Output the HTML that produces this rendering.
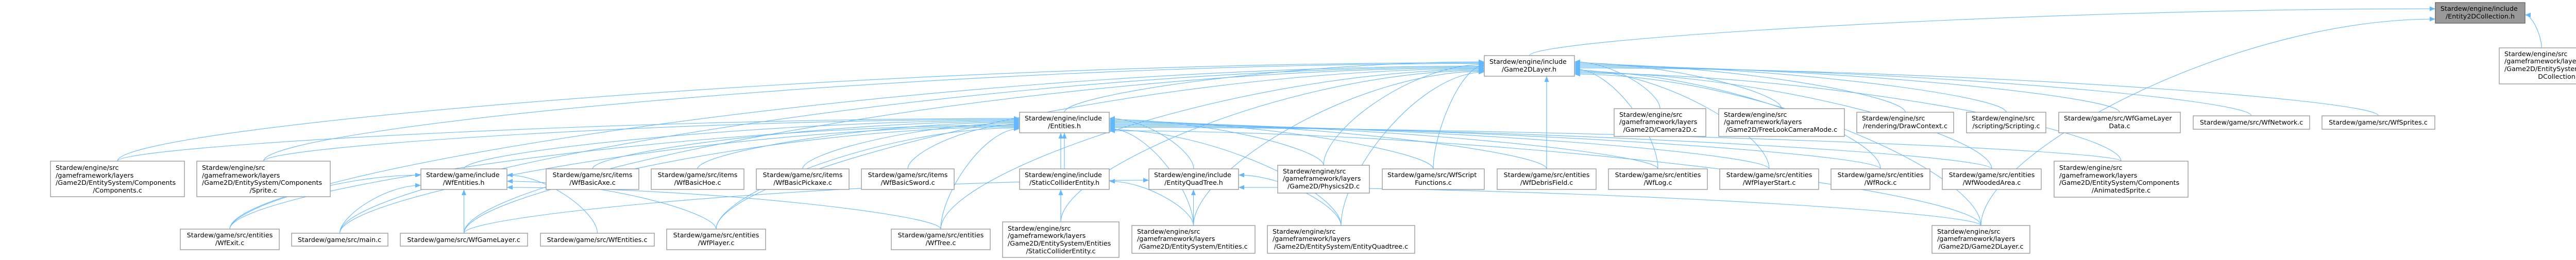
<!DOCTYPE html>
<html><head><meta charset="utf-8">
<style>
html,body{margin:0;padding:0;background:#fff;}
svg{display:block;}
text{font-family:"DejaVu Sans","Liberation Sans",sans-serif;font-size:12.7px;fill:#000;}
rect.n{fill:#fff;stroke:#999;stroke-width:1.4;}
rect.g{fill:#999;stroke:#666;stroke-width:1.4;}
</style></head>
<body>
<svg id="s" width="5092" height="505" viewBox="0 0 5092 505" xmlns="http://www.w3.org/2000/svg">
<defs><marker id="ar" markerUnits="userSpaceOnUse" markerWidth="12" markerHeight="10" refX="11" refY="4.5" orient="auto"><path d="M0,0 L11,4.5 L0,9 z" fill="#63b8ff"/></marker></defs>
<g id="edges" fill="none" stroke="#63b8ff" stroke-width="1.1"></g>
<g id="nodes">
<rect class="g" x="4727" y="5" width="174" height="40"/><text x="4737" y="21">Stardew/engine/include</text><text x="4814" y="36" text-anchor="middle">/Entity2DCollection.h</text>
<rect class="n" x="4851" y="93" width="235" height="70"/><text x="4861" y="109">Stardew/engine/src</text><text x="4861" y="123">/gameframework/layers</text><text x="4861" y="138">/Game2D/EntitySystem/Entities2</text><text x="4968" y="153" text-anchor="middle">DCollection.c</text>
<rect class="n" x="2881" y="108" width="175" height="40"/><text x="2891" y="124">Stardew/engine/include</text><text x="2968" y="139" text-anchor="middle">/Game2DLayer.h</text>
<rect class="n" x="1979" y="218" width="174" height="40"/><text x="1989" y="234">Stardew/engine/include</text><text x="2066" y="249" text-anchor="middle">/Entities.h</text>
<rect class="n" x="3133" y="211" width="178" height="54"/><text x="3143" y="227">Stardew/engine/src</text><text x="3143" y="241">/gameframework/layers</text><text x="3222" y="256" text-anchor="middle">/Game2D/Camera2D.c</text>
<rect class="n" x="3336" y="211" width="244" height="54"/><text x="3346" y="227">Stardew/engine/src</text><text x="3346" y="241">/gameframework/layers</text><text x="3458" y="256" text-anchor="middle">/Game2D/FreeLookCameraMode.c</text>
<rect class="n" x="3604" y="218" width="188" height="40"/><text x="3614" y="234">Stardew/engine/src</text><text x="3698" y="249" text-anchor="middle">/rendering/DrawContext.c</text>
<rect class="n" x="3817" y="218" width="154" height="40"/><text x="3827" y="234">Stardew/engine/src</text><text x="3894" y="249" text-anchor="middle">/scripting/Scripting.c</text>
<rect class="n" x="3996" y="218" width="236" height="40"/><text x="4006" y="234">Stardew/game/src/WfGameLayer</text><text x="4114" y="249" text-anchor="middle">Data.c</text>
<rect class="n" x="4257" y="225" width="226" height="26"/><text x="4370" y="242" text-anchor="middle">Stardew/game/src/WfNetwork.c</text>
<rect class="n" x="4507" y="225" width="219" height="26"/><text x="4616" y="242" text-anchor="middle">Stardew/game/src/WfSprites.c</text>
<rect class="n" x="98" y="313" width="260" height="69"/><text x="108" y="330">Stardew/engine/src</text><text x="108" y="345">/gameframework/layers</text><text x="108" y="359">/Game2D/EntitySystem/Components</text><text x="228" y="374" text-anchor="middle">/Components.c</text>
<rect class="n" x="382" y="313" width="259" height="69"/><text x="392" y="330">Stardew/engine/src</text><text x="392" y="345">/gameframework/layers</text><text x="392" y="359">/Game2D/EntitySystem/Components</text><text x="511" y="374" text-anchor="middle">/Sprite.c</text>
<rect class="n" x="817" y="328" width="167" height="40"/><text x="827" y="344">Stardew/game/include</text><text x="900" y="359" text-anchor="middle">/WfEntities.h</text>
<rect class="n" x="1060" y="328" width="180" height="40"/><text x="1150" y="344" text-anchor="middle">Stardew/game/src/items</text><text x="1150" y="359" text-anchor="middle">/WfBasicAxe.c</text>
<rect class="n" x="1264" y="328" width="180" height="40"/><text x="1354" y="344" text-anchor="middle">Stardew/game/src/items</text><text x="1354" y="359" text-anchor="middle">/WfBasicHoe.c</text>
<rect class="n" x="1468" y="328" width="180" height="40"/><text x="1558" y="344" text-anchor="middle">Stardew/game/src/items</text><text x="1558" y="359" text-anchor="middle">/WfBasicPickaxe.c</text>
<rect class="n" x="1672" y="328" width="180" height="40"/><text x="1762" y="344" text-anchor="middle">Stardew/game/src/items</text><text x="1762" y="359" text-anchor="middle">/WfBasicSword.c</text>
<rect class="n" x="1979" y="328" width="174" height="40"/><text x="1989" y="344">Stardew/engine/include</text><text x="2066" y="359" text-anchor="middle">/StaticColliderEntity.h</text>
<rect class="n" x="2230" y="328" width="174" height="40"/><text x="2240" y="344">Stardew/engine/include</text><text x="2317" y="359" text-anchor="middle">/EntityQuadTree.h</text>
<rect class="n" x="2480" y="321" width="178" height="54"/><text x="2490" y="337">Stardew/engine/src</text><text x="2490" y="351">/gameframework/layers</text><text x="2569" y="366" text-anchor="middle">/Game2D/Physics2D.c</text>
<rect class="n" x="2683" y="328" width="198" height="40"/><text x="2693" y="344">Stardew/game/src/WfScript</text><text x="2782" y="359" text-anchor="middle">Functions.c</text>
<rect class="n" x="2906" y="328" width="192" height="40"/><text x="3002" y="344" text-anchor="middle">Stardew/game/src/entities</text><text x="3002" y="359" text-anchor="middle">/WfDebrisField.c</text>
<rect class="n" x="3122" y="328" width="192" height="40"/><text x="3218" y="344" text-anchor="middle">Stardew/game/src/entities</text><text x="3218" y="359" text-anchor="middle">/WfLog.c</text>
<rect class="n" x="3338" y="328" width="192" height="40"/><text x="3434" y="344" text-anchor="middle">Stardew/game/src/entities</text><text x="3434" y="359" text-anchor="middle">/WfPlayerStart.c</text>
<rect class="n" x="3554" y="328" width="192" height="40"/><text x="3650" y="344" text-anchor="middle">Stardew/game/src/entities</text><text x="3650" y="359" text-anchor="middle">/WfRock.c</text>
<rect class="n" x="3770" y="328" width="192" height="40"/><text x="3866" y="344" text-anchor="middle">Stardew/game/src/entities</text><text x="3866" y="359" text-anchor="middle">/WfWoodedArea.c</text>
<rect class="n" x="3987" y="313" width="260" height="70"/><text x="3997" y="330">Stardew/engine/src</text><text x="3997" y="345">/gameframework/layers</text><text x="3997" y="359">/Game2D/EntitySystem/Components</text><text x="4117" y="374" text-anchor="middle">/AnimatedSprite.c</text>
<rect class="n" x="350" y="445" width="192" height="40"/><text x="446" y="461" text-anchor="middle">Stardew/game/src/entities</text><text x="446" y="476" text-anchor="middle">/WfExit.c</text>
<rect class="n" x="566" y="453" width="187" height="25"/><text x="659" y="470" text-anchor="middle">Stardew/game/src/main.c</text>
<rect class="n" x="777" y="453" width="247" height="25"/><text x="900" y="470" text-anchor="middle">Stardew/game/src/WfGameLayer.c</text>
<rect class="n" x="1049" y="453" width="221" height="25"/><text x="1159" y="470" text-anchor="middle">Stardew/game/src/WfEntities.c</text>
<rect class="n" x="1294" y="445" width="192" height="40"/><text x="1390" y="461" text-anchor="middle">Stardew/game/src/entities</text><text x="1390" y="476" text-anchor="middle">/WfPlayer.c</text>
<rect class="n" x="1730" y="445" width="192" height="40"/><text x="1826" y="461" text-anchor="middle">Stardew/game/src/entities</text><text x="1826" y="476" text-anchor="middle">/WfTree.c</text>
<rect class="n" x="1946" y="431" width="226" height="69"/><text x="1956" y="448">Stardew/engine/src</text><text x="1956" y="462">/gameframework/layers</text><text x="1956" y="477">/Game2D/EntitySystem/Entities</text><text x="2059" y="492" text-anchor="middle">/StaticColliderEntity.c</text>
<rect class="n" x="2197" y="438" width="239" height="54"/><text x="2207" y="454">Stardew/engine/src</text><text x="2207" y="468">/gameframework/layers</text><text x="2316" y="483" text-anchor="middle">/Game2D/EntitySystem/Entities.c</text>
<rect class="n" x="2460" y="438" width="286" height="54"/><text x="2470" y="454">Stardew/engine/src</text><text x="2470" y="468">/gameframework/layers</text><text x="2603" y="483" text-anchor="middle">/Game2D/EntitySystem/EntityQuadtree.c</text>
<rect class="n" x="3750" y="438" width="190" height="54"/><text x="3760" y="454">Stardew/engine/src</text><text x="3760" y="468">/gameframework/layers</text><text x="3845" y="483" text-anchor="middle">/Game2D/Game2DLayer.c</text>
</g>
</svg>
<script>
var N=[[4727,5,174,40],[4851,93,235,70],[2881,108,175,40],[1979,218,174,40],[3133,211,178,54],[3336,211,244,54],[3604,218,188,40],[3817,218,154,40],[3996,218,236,40],[4257,225,226,26],[4507,225,219,26],[98,313,260,69],[382,313,259,69],[817,328,167,40],[1060,328,180,40],[1264,328,180,40],[1468,328,180,40],[1672,328,180,40],[1979,328,174,40],[2230,328,174,40],[2480,321,178,54],[2683,328,198,40],[2906,328,192,40],[3122,328,192,40],[3338,328,192,40],[3554,328,192,40],[3770,328,192,40],[3987,313,260,70],[350,445,192,40],[566,453,187,25],[777,453,247,25],[1049,453,221,25],[1294,445,192,40],[1730,445,192,40],[1946,431,226,69],[2197,438,239,54],[2460,438,286,54],[3750,438,190,54]];
var E={0:[2,1,37],2:[3,4,5,6,7,8,9,10,11,12,20,21,22,23,24,25,26,27,28,29,30,32,33,34,35,36,37],3:[11,12,13,14,15,16,17,18,19,20,21,22,23,24,25,26,27,28,29,30,32,33,34,35,36,37],13:[28,29,30,31,32,33],18:[34,35],19:[30,35,36,37]};
var g=document.getElementById('edges'),ns='http://www.w3.org/2000/svg';
for(var t in E){var T=N[t],L=[],R=[],B=[];
E[t].forEach(function(s){var S=N[s],cx=S[0]+S[2]/2;
 if(cx<T[0]-20)L.push(s);else if(cx>T[0]+T[2]+20)R.push(s);else B.push(s);});
function draw(s,tx,ty,mode){var S=N[s],sx=S[0]+S[2]/2,sy=S[1],d;
 if(s==1){sx=S[0]+S[2]*0.35;}
 if(mode=='b'){var my=(sy+ty)/2;d='M'+sx+','+sy+' C'+sx+','+my+' '+tx+','+my+' '+tx+','+ty;}
 else{var dx=Math.abs(tx-sx),k=mode=='l'?-1:1;d='M'+sx+','+sy+' C'+sx+','+(sy-0.35*(sy-ty))+' '+(tx+k*0.45*dx)+','+ty+' '+tx+','+ty;}
 var p=document.createElementNS(ns,'path');p.setAttribute('d',d);p.setAttribute('marker-end','url(#ar)');g.appendChild(p);}
L.forEach(function(s,i){var n=L.length;draw(s,T[0],T[1]+T[3]*(0.3+0.5*(n>1?i/(n-1):0.5)),'l');});
R.forEach(function(s,i){var n=R.length;draw(s,T[0]+T[2],T[1]+T[3]*(0.3+0.6*(n>1?i/(n-1):0.5)),'r');});
B.forEach(function(s,i){var n=B.length;var S=N[s];var f=(S[0]+S[2]/2-T[0])/T[2];f=Math.max(0.15,Math.min(0.85,f));draw(s,T[0]+T[2]*f,T[1]+T[3],'b');});
}
</script>
</body></html>
